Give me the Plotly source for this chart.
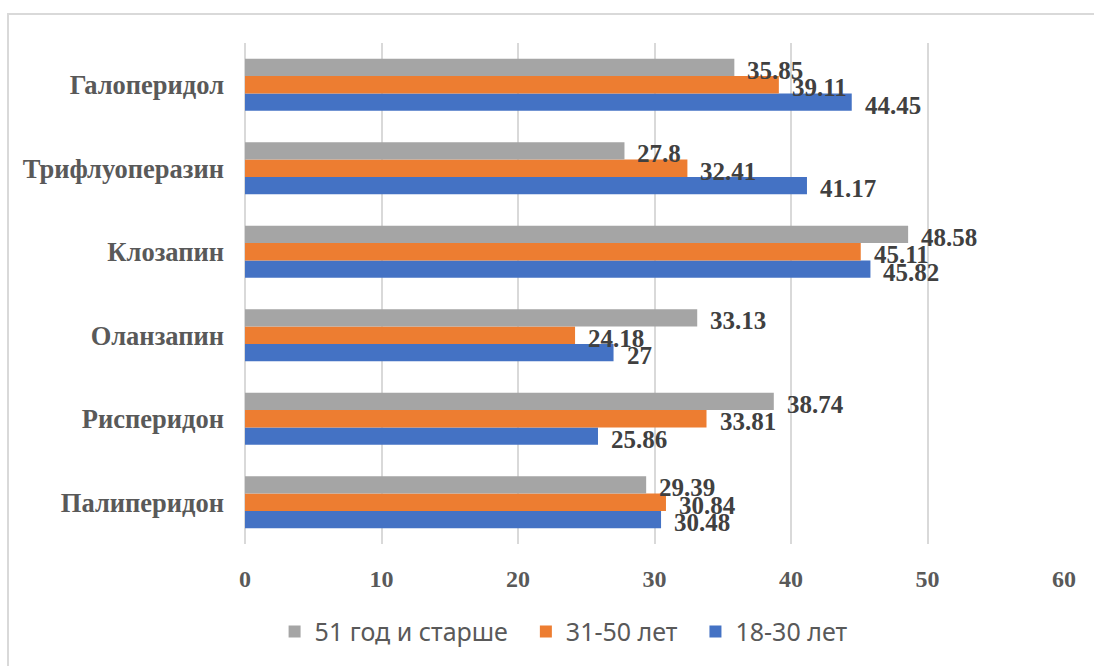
import plotly.graph_objects as go

# Drugs listed bottom-to-top on the category axis
drugs = ["Палиперидон", "Рисперидон", "Оланзапин", "Клозапин", "Трифлуоперазин", "Галоперидол"]

age_18_30 = [30.48, 25.86, 27, 45.82, 41.17, 44.45]
age_31_50 = [30.84, 33.81, 24.18, 45.11, 32.41, 39.11]
age_51_up = [29.39, 38.74, 33.13, 48.58, 27.8, 35.85]

series_names = ["18-30 лет", "31-50 лет", "51 год и старше"]
series_colors = ["#4472C4", "#ED7D31", "#A5A5A5"]
series_values = [age_18_30, age_31_50, age_51_up]

x_ticks = [0, 10, 20, 30, 40, 50, 60]

serif = "Liberation Serif, Times New Roman, serif"
label_color = "#404040"
axis_color = "#595959"
NBSP = "\u00a0"

fig = go.Figure()
for i, (name, vals, color) in enumerate(zip(series_names, series_values, series_colors)):
    # trailing padding widens the gap between horizontal legend entries
    pad = NBSP * 2 if i > 0 else ""
    fig.add_trace(go.Bar(
        name=name + pad, y=drugs, x=vals, orientation="h",
        marker=dict(color=color, line=dict(width=0)),
        hoverinfo="x+y",
    ))

# Value labels placed just past each bar end, shifted to each bar's slot in the group
plot_h = 502
step_px = plot_h / len(drugs)
bargap = 0.38
n = len(series_values)
bar_px = step_px * (1 - bargap) / n
annotations = []
for i, vals in enumerate(series_values):
    offset = (i - (n - 1) / 2) * bar_px
    for d, v in zip(drugs, vals):
        annotations.append(dict(
            x=v, y=d, xref="x", yref="y",
            text=f"{v:g}", showarrow=False,
            xanchor="left", yanchor="middle",
            xshift=11, yshift=offset - 3,
            font=dict(family=serif, size=25, color=label_color, weight="bold"),
        ))

fig.update_layout(
    barmode="group",
    bargap=bargap,
    bargroupgap=0,
    width=1094, height=666,
    margin=dict(l=245, r=30, t=43, b=121),
    plot_bgcolor="white",
    paper_bgcolor="white",
    annotations=annotations,
    legend=dict(
        orientation="h", traceorder="reversed",
        x=0.389, xanchor="center", y=-0.173, yanchor="middle",
        font=dict(family="Noto Sans, Open Sans, sans-serif", size=25, color=axis_color),
    ),
    shapes=[dict(
        type="rect", xref="paper", yref="paper",
        x0=-0.2894, x1=1.3, y0=-0.5, y1=1.0578,
        line=dict(color="#D9D9D9", width=2), fillcolor="rgba(0,0,0,0)", layer="below",
    )],
)

fig.update_xaxes(
    range=[0, 60], tickvals=x_ticks,
    showgrid=True, gridcolor="#D9D9D9", gridwidth=2,
    zeroline=True, zerolinecolor="#D9D9D9", zerolinewidth=2,
    showline=False, ticks="",
    ticklabelstandoff=18,
    tickfont=dict(family=serif, size=24, color=axis_color, weight="bold"),
)
fig.update_yaxes(
    categoryorder="array", categoryarray=drugs,
    showgrid=False, showline=False, ticks="",
    ticklabelstandoff=20,
    tickfont=dict(family=serif, size=26.5, color=axis_color, weight="bold"),
)

fig.write_html("out.html")
